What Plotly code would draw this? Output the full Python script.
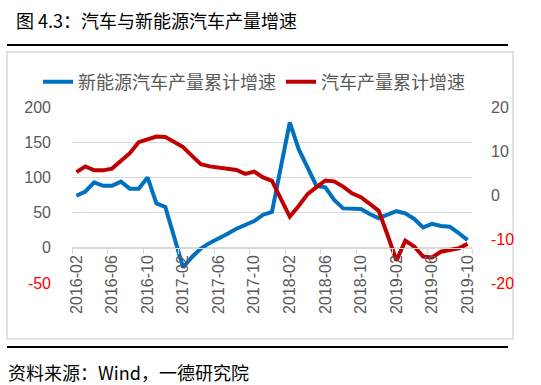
import plotly.graph_objects as go

months = [f"{y}-{m:02d}" for y, m in
          [(2016, m) for m in range(2, 13)] + [(2017, m) for m in range(1, 13)] +
          [(2018, m) for m in range(1, 13)] + [(2019, m) for m in range(1, 11)]]

nev_growth = [74, 80, 93, 88, 88, 94, 84, 84, 100, 63, 58, 15, -28, -13, -1, 7,
              13, 20, 27, 32, 38, 47, 51, 115, 178, 140, 113, 88, 86, 68, 56, 55,
              55, 48, 42, 47, 52, 49, 41, 29, 34, 31, 30, 21, 11]
auto_growth = [5.2, 6.5, 5.6, 5.6, 6.0, 7.8, 9.5, 12.0, 12.6, 13.3, 13.2, 12.0,
               10.9, 8.9, 7.0, 6.5, 6.3, 6.1, 5.7, 4.8, 5.3, 4.0, 3.2, -0.9,
               -4.9, -2.5, 0.2, 1.8, 3.3, 3.1, 1.9, 0.4, -0.5, -2.0, -3.6, -9.1,
               -14.9, -10.4, -11.7, -14.0, -14.2, -12.9, -12.5, -12.1, -11.1]

left_ticks = [-50, 0, 50, 100, 150, 200]
right_ticks = [-20, -10, 0, 10, 20]
x_ticks = months[::4]

title_text = "图 4.3：汽车与新能源汽车产量增速"
source_text = "资料来源：Wind，一德研究院"
name_nev = "新能源汽车产量累计增速"
name_auto = "汽车产量累计增速"

W, H = 541, 385
L, R, T, B = 72, 472, 107, 283  # plot area in pixels


def px(x):
    return (x - L) / (R - L)


def py(y):
    return (B - y) / (B - T)


def lab(v):
    return f"<span style='color:#FF0000'>{v}</span>" if v < 0 else str(v)


GRAY = "#595959"
GRID = "#D9D9D9"
FONT = "Noto Sans CJK SC"
NUMFONT = "Liberation Sans"

fig = go.Figure()
fig.add_trace(go.Scatter(x=months, y=nev_growth, name=name_nev, mode="lines",
                         line=dict(color="#0070C0", width=4), yaxis="y"))
fig.add_trace(go.Scatter(x=months, y=auto_growth, name=name_auto, mode="lines",
                         line=dict(color="#C00000", width=4), yaxis="y2"))

zero_frac = (0 - left_ticks[0]) / (left_ticks[-1] - left_ticks[0])

fig.update_layout(
    width=W, height=H, autosize=False,
    margin=dict(l=L, r=W - R, t=T, b=H - B, pad=0, autoexpand=False),
    paper_bgcolor="white", plot_bgcolor="white",
    showlegend=True,
    legend=dict(orientation="h", x=px(38), y=py(82), xanchor="left", yanchor="middle",
                font=dict(family=FONT, size=18, color=GRAY), bgcolor="rgba(0,0,0,0)",
                itemwidth=30, tracegroupgap=0),
    title=dict(text=title_text, x=16 / W, xref="container", y=1 - 22 / H, yref="container",
               xanchor="left", yanchor="middle",
               font=dict(family=FONT, size=18, color="black")),
    xaxis=dict(type="category", categoryorder="array", categoryarray=months,
               anchor="free", position=zero_frac,
               tickmode="array", tickvals=x_ticks, ticktext=x_ticks,
               tickangle=-90, tickson="boundaries",
               ticks="outside", ticklen=5, tickcolor=GRID, tickwidth=1,
               showline=True, linecolor=GRID, linewidth=1,
               showgrid=False, zeroline=False, automargin=False,
               tickfont=dict(family=NUMFONT, size=16, color=GRAY),
               range=[-0.5, len(months) - 0.5]),
    yaxis=dict(range=[left_ticks[0], left_ticks[-1]], tickmode="array",
               tickvals=left_ticks, ticktext=[lab(v) for v in left_ticks],
               showgrid=True, gridcolor=GRID, gridwidth=1, zeroline=False,
               showline=False, ticks="", ticklabelstandoff=20, automargin=False,
               tickfont=dict(family=NUMFONT, size=16, color=GRAY)),
    yaxis2=dict(range=[right_ticks[0], right_ticks[-1]], overlaying="y", side="right",
                tickmode="array", tickvals=right_ticks,
                ticktext=[lab(v) for v in right_ticks],
                showgrid=False, zeroline=False, showline=False, ticks="",
                ticklabelstandoff=18, automargin=False,
                tickfont=dict(family=NUMFONT, size=16, color=GRAY)),
)

# chart frame and separator lines
fig.add_shape(type="rect", xref="paper", yref="paper",
              x0=px(7), x1=px(513), y0=py(339), y1=py(52),
              line=dict(color=GRID, width=1.5), layer="below")
fig.add_shape(type="line", xref="paper", yref="paper",
              x0=px(7), x1=px(508), y0=py(45), y1=py(45),
              line=dict(color="black", width=2))
fig.add_shape(type="line", xref="paper", yref="paper",
              x0=px(7), x1=px(508), y0=py(347), y1=py(347),
              line=dict(color="black", width=2))

fig.add_annotation(text=source_text, xref="paper", yref="paper",
                   x=px(6), y=py(372), xanchor="left", yanchor="middle",
                   showarrow=False, font=dict(family=FONT, size=18, color="black"))

fig.write_html("out.html", config={"displayModeBar": False},
               post_script="document.body.style.margin='0';document.body.style.padding='0';")
